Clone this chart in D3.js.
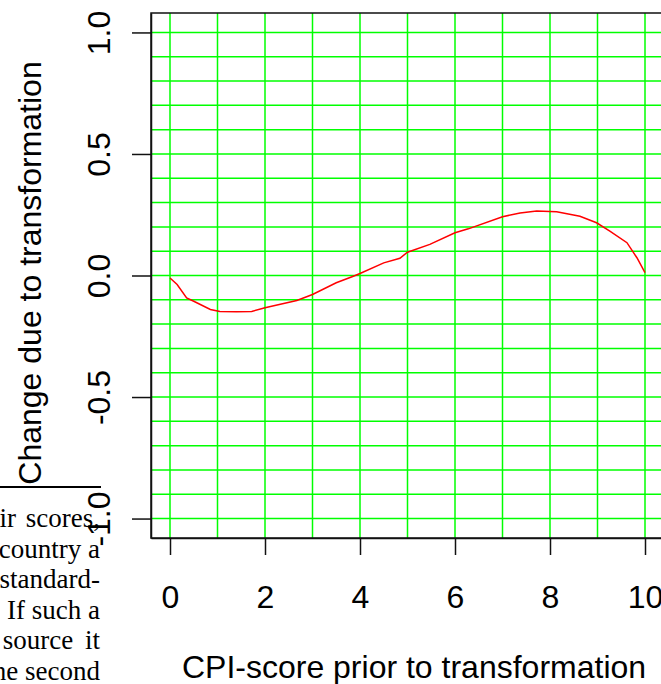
<!DOCTYPE html>
<html>
<head>
<meta charset="utf-8">
<script src="https://cdn.jsdelivr.net/npm/d3@7"></script>
<style>
body { margin: 0; background: #fff; overflow: hidden; }
</style>
</head>
<body>
<script>
// values
var cpiScore = [0, 0.15, 0.35, 0.5, 0.85, 1.05, 1.4, 1.72, 2.0, 2.67, 3.0, 3.5, 3.86, 4.0, 4.5, 4.84, 5.0, 5.47, 6.0, 6.28, 7.0, 7.37, 7.72, 8.14, 8.63, 8.98, 9.26, 9.62, 9.83, 10.0];
var change = [-0.01, -0.037, -0.092, -0.106, -0.14, -0.148, -0.149, -0.148, -0.133, -0.103, -0.078, -0.03, -0.003, 0.008, 0.052, 0.071, 0.096, 0.128, 0.176, 0.192, 0.242, 0.257, 0.265, 0.262, 0.244, 0.217, 0.183, 0.135, 0.073, 0.012];

var xTicks = [0, 2, 4, 6, 8, 10];
var yTicks = [-1, -0.5, 0, 0.5, 1];
var yTickLabels = ["-1.0", "-0.5", "0.0", "0.5", "1.0"];
var gridX = [0, 1, 2, 3, 4, 5, 6, 7, 8, 9, 10];
var gridY = [-1, -0.9, -0.8, -0.7, -0.6, -0.5, -0.4, -0.3, -0.2, -0.1, 0, 0.1, 0.2, 0.3, 0.4, 0.5, 0.6, 0.7, 0.8, 0.9, 1];

// bit of page text that sits over the corner of the figure
var pageLines = ["ir scores,", "country a", "standard-", "If such a", "source it", "he second"];

var svg = d3.select("body").append("svg")
.attr("width", 661)
.attr("height", 684);

var x = d3.scaleLinear().domain([-0.4, 10.4]).range([151, 664]);
var y = d3.scaleLinear().domain([-1.08, 1.08]).range([538, 13]);

// green grid
svg.append("g").selectAll("line").data(gridX).join("line")
.attr("x1", d => x(d))
.attr("x2", d => x(d))
.attr("y1", y.range()[0])
.attr("y2", y.range()[1])
.attr("stroke", "#00ff00")
.attr("stroke-width", 1.5);

svg.append("g").selectAll("line").data(gridY).join("line")
.attr("x1", x.range()[0])
.attr("x2", x.range()[1])
.attr("y1", d => y(d))
.attr("y2", d => y(d))
.attr("stroke", "#00ff00")
.attr("stroke-width", 1.5);

// curve
svg.append("path")
.datum(d3.zip(cpiScore, change))
.attr("d", d3.line().x(d => x(d[0])).y(d => y(d[1])))
.attr("fill", "none")
.attr("stroke", "#ff0000")
.attr("stroke-width", 1.5);

// box
svg.append("rect")
.attr("x", x.range()[0])
.attr("y", y.range()[1])
.attr("width", x.range()[1] - x.range()[0])
.attr("height", y.range()[0] - y.range()[1])
.attr("fill", "none")
.attr("stroke", "#111")
.attr("stroke-width", 1.5);

// axes
var xAxis = svg.append("g")
.attr("transform", "translate(0," + y.range()[0] + ")")
.call(d3.axisBottom(x).tickValues(xTicks).tickSize(17).tickSizeOuter(0).tickPadding(30));

var yAxis = svg.append("g")
.attr("transform", "translate(" + x.range()[0] + ",0)")
.call(d3.axisLeft(y).tickValues(yTicks).tickSize(19).tickSizeOuter(0)
  .tickFormat((d, i) => yTickLabels[i]));

svg.selectAll(".domain").attr("stroke", "#111").attr("stroke-width", 1.5);
svg.selectAll(".tick line").attr("stroke", "#111").attr("stroke-width", 1.5);
svg.selectAll(".tick text")
.attr("fill", "#000")
.style("font-family", "'Liberation Sans', Arial, sans-serif")
.style("font-size", "32px");

yAxis.selectAll(".tick text")
.attr("x", null)
.attr("dy", null)
.attr("text-anchor", "middle")
.attr("transform", "translate(-41,0) rotate(-90)");

// axis titles
svg.append("text")
.attr("x", 414)
.attr("y", 678)
.attr("text-anchor", "middle")
.style("font-family", "'Liberation Sans', Arial, sans-serif")
.style("font-size", "32px")
.text("CPI-score prior to transformation");

svg.append("text")
.attr("transform", "translate(41,273) rotate(-90)")
.attr("text-anchor", "middle")
.style("font-family", "'Liberation Sans', Arial, sans-serif")
.style("font-size", "32px")
.text("Change due to transformation");

// page text overlay
svg.append("line")
.attr("x1", 0)
.attr("x2", 101)
.attr("y1", 487)
.attr("y2", 487)
.attr("stroke", "#000")
.attr("stroke-width", 2);

svg.append("g").selectAll("text").data(pageLines).join("text")
.attr("x", 100)
.attr("y", (d, i) => 527 + i * 30.6)
.attr("text-anchor", "end")
.style("font-family", "'Liberation Serif', 'Times New Roman', serif")
.style("font-size", "27px")
.style("word-spacing", (d, i) => i == 0 ? "3px" : i == 4 ? "5px" : "0px")
.text(d => d);
</script>
</body>
</html>
